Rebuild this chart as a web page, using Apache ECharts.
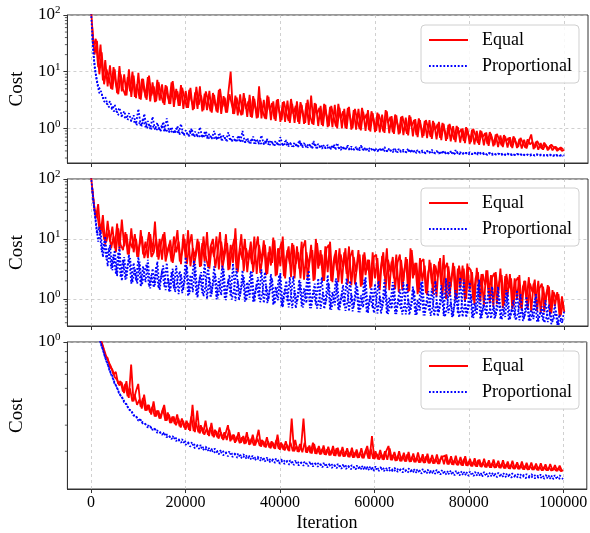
<!DOCTYPE html>
<html><head><meta charset="utf-8">
<script src="https://cdn.jsdelivr.net/npm/echarts@6.0.0/dist/echarts.min.js"></script>
<style>html,body{margin:0;padding:0;background:#fff}#c{width:590px;height:533px}</style>
</head><body><div id="c"></div>
<script>
// iteration spacing of the samples; "B" runs are sampled half a step later
const STEP = 500;
const OFFSET_B = 250;

const xTicks = [0, 20000, 40000, 60000, 80000, 100000];
const yMajor12 = [1, 10, 100];
const yMajor3 = [1];
const yMinor1 = [0.3,0.4,0.5,0.6,0.7,0.8,0.9,2,3,4,5,6,7,8,9,20,30,40,50,60,70,80,90];
const yMinor2 = [0.4,0.5,0.6,0.7,0.8,0.9,2,3,4,5,6,7,8,9,20,30,40,50,60,70,80,90];
const yMinor3 = [0.3,0.4,0.5,0.6,0.7,0.8,0.9];

// Panel 1
const p1Equal = [
130,28,38,12,30,7,16,5.5,13,4.8,
11,4.2,12.5,4.5,9,3.8,11,3.6,8.5,3.4,
9.5,3.2,7.5,3.5,8,3.0,6.5,2.9,7.2,3.1,
6,2.6,5.5,2.7,6.5,2.4,5,2.5,5.8,2.2,
4.6,2.3,5.2,2.1,4.3,2.2,5.5,2.0,4.1,2.1,
4.6,1.9,3.9,2.0,4.8,1.8,3.7,1.9,4.2,10,
1.8,3.8,1.7,4.0,1.75,3.4,1.6,3.9,1.55,3.3,
1.5,5.5,1.5,3.2,1.45,3.6,1.4,3.0,1.35,3.3,
1.3,2.9,1.3,3.1,1.25,2.7,1.25,3.0,1.2,2.6,
1.2,2.8,1.15,3.8,1.15,2.7,1.1,2.5,1.1,2.6,
1.05,2.4,1.05,2.6,1.0,2.3,1.0,2.2,0.98,2.4,
0.95,2.1,0.95,2.2,0.92,1.95,0.9,2.1,0.88,1.85,
0.86,1.9,0.85,1.75,0.83,2.0,0.82,1.65,0.8,1.7,
0.78,1.6,0.76,1.55,0.75,1.6,0.72,1.45,0.7,1.4,
0.69,1.35,0.67,1.4,0.65,1.25,0.64,1.3,0.62,1.2,
0.6,1.15,0.59,1.1,0.57,1.05,0.56,1.0,0.55,1.0,
0.53,0.95,0.52,0.9,0.51,0.88,0.5,0.85,0.49,0.8,
0.48,0.78,0.47,0.75,0.47,0.72,0.46,0.7,0.45,0.68,
0.45,0.65,0.44,0.63,0.44,0.6,0.78,0.43,0.58,0.42,
0.55,0.42,0.52,0.41,0.5,0.41,0.47,0.4,0.45,0.4,
0.42];
const p1EqualB = [
60,20,35,9,22,6,11,8,5,12,6,4,9,5,3.8,8,4.5,10,3.6,6,
3.3,7.5,4.5,3.2,8.5,3.8,5.5,3.0,6.5,4,2.8,5.8,3.5,2.7,6.8,3.2,4.5,2.5,5.2,3.4,
2.3,4.8,3.0,2.2,5.4,2.6,3.8,2.1,4.5,3.0,2.0,4.2,2.6,1.9,5.0,2.4,3.5,1.9,4.0,2.6,
1.8,3.5,2.3,1.7,4.2,2.2,3.0,1.6,3.7,2.3,1.55,3.4,2.0,1.5,3.8,2.1,2.8,1.45,3.2,2.0,
1.4,3.0,1.9,1.35,3.3,1.8,2.5,1.3,2.9,1.9,1.25,3.2,1.7,1.2,2.8,1.8,2.3,1.15,2.7,1.7,
1.1,2.5,1.6,1.08,2.7,1.5,2.0,1.02,2.3,1.55,1.0,2.2,1.4,0.97,2.3,1.45,1.8,0.93,2.0,1.4,
0.9,1.8,1.3,0.88,2.1,1.25,1.6,0.85,1.75,1.2,0.82,1.65,1.15,0.8,1.7,1.1,1.4,0.76,1.5,1.05,
0.74,1.4,1.0,0.71,1.35,0.95,1.2,0.68,1.25,0.9,0.65,1.2,0.85,0.63,1.1,0.82,0.98,0.6,1.05,0.78,
0.57,0.98,0.74,0.55,0.92,0.7,0.82,0.53,0.86,0.66,0.51,0.8,0.63,0.5,0.76,0.6,0.68,0.48,0.72,0.57,
0.47,0.68,0.55,0.46,0.64,0.52,0.58,0.45,0.6,0.5,0.44,0.56,0.48,0.43,0.52,0.46,0.47,0.42,0.46,0.43];
const p1Prop = [
110,20,9,5.5,4.8,3.4,3.6,2.6,3.0,2.2,
2.6,1.9,2.3,1.65,2.0,1.5,1.85,1.35,1.7,1.2,
2.2,1.1,1.5,1.05,1.35,0.98,1.6,0.95,1.25,0.9,
1.15,0.88,1.5,0.85,1.05,0.82,1.0,0.8,1.2,0.76,
0.92,0.74,0.95,0.72,0.88,0.7,1.05,0.69,0.85,0.67,
0.8,0.65,0.9,0.64,0.78,0.62,0.75,0.61,0.85,0.6,
0.72,0.58,0.7,0.57,0.9,0.56,0.68,0.55,0.66,0.54,
0.65,0.53,0.75,0.52,0.63,0.52,0.62,0.51,0.6,0.5,
0.7,0.49,0.59,0.49,0.57,0.48,0.56,0.47,0.62,0.47,
0.55,0.46,0.54,0.46,0.6,0.45,0.53,0.45,0.52,0.44,
0.51,0.44,0.5,0.43,0.55,0.43,0.49,0.42,0.48,0.42,
0.48,0.42,0.47,0.41,0.5,0.41,0.46,0.41,0.46,0.4,
0.45,0.4,0.44,0.4,0.47,0.39,0.44,0.39,0.43,0.39,
0.43,0.38,0.42,0.38,0.44,0.38,0.42,0.38,0.41,0.37,
0.41,0.37,0.4,0.37,0.42,0.37,0.4,0.36,0.39,0.36,
0.39,0.36,0.39,0.36,0.41,0.36,0.38,0.355,0.38,0.355,
0.38,0.35,0.37,0.35,0.39,0.35,0.37,0.35,0.37,0.345,
0.37,0.345,0.36,0.345,0.36,0.34,0.36,0.34,0.36,0.34,
0.355,0.34,0.355,0.34,0.35,0.335,0.35,0.335,0.35,0.335,
0.345,0.335,0.345,0.33,0.345,0.33,0.34,0.33,0.34,0.33,
0.335];
const p1PropB = [
45,12,6.5,4.2,4.0,3.0,2.8,2.4,2.3,2.0,2.1,1.75,1.7,1.6,1.55,1.45,1.4,1.3,1.3,1.15,
1.25,1.1,1.8,1.0,1.15,0.97,1.1,0.92,1.05,0.9,1.3,0.86,0.95,0.84,0.92,0.81,1.1,0.78,0.86,0.76,
0.82,0.73,1.0,0.71,0.78,0.7,0.76,0.68,0.9,0.66,0.72,0.65,0.7,0.63,0.8,0.62,0.68,0.6,0.66,0.6,
0.64,0.58,0.75,0.57,0.62,0.56,0.6,0.55,0.72,0.54,0.58,0.53,0.57,0.52,0.65,0.51,0.56,0.5,0.55,0.5,
0.54,0.49,0.62,0.48,0.53,0.48,0.52,0.47,0.58,0.46,0.51,0.46,0.5,0.45,0.55,0.45,0.49,0.44,0.48,0.44,
0.47,0.43,0.52,0.43,0.46,0.42,0.46,0.42,0.5,0.41,0.45,0.41,0.44,0.41,0.47,0.4,0.43,0.4,0.43,0.4,
0.42,0.39,0.45,0.39,0.42,0.39,0.41,0.38,0.43,0.38,0.41,0.38,0.4,0.37,0.42,0.37,0.4,0.37,0.39,0.37,
0.39,0.36,0.41,0.36,0.39,0.36,0.38,0.36,0.4,0.355,0.38,0.355,0.37,0.35,0.39,0.35,0.37,0.35,0.37,0.35,
0.37,0.345,0.38,0.345,0.36,0.345,0.36,0.34,0.37,0.34,0.355,0.34,0.355,0.34,0.36,0.335,0.35,0.335,0.35,0.335,
0.35,0.335,0.355,0.33,0.345,0.33,0.345,0.33,0.35,0.33,0.34,0.33,0.34,0.325,0.345,0.325,0.34,0.325,0.335,0.325];

// Panel 2
const p2Equal = [
110,45,22,38,12,25,8,20,9,16,
7,18,6.5,21,7.5,12,5.5,15,6,10,
5,14,5.5,9,4.8,12,6,19.5,5,10,
4.5,13,5.5,8,4.2,11,6,9,3.8,12,
4.5,14,3.5,7,5,10,3.4,8.5,4.2,13,
3.2,7.5,5,11,3.1,9,4.5,12,3.0,8,
4,15,2.8,7,4.5,10,2.8,6.5,3.8,11,
2.6,8,4.2,9.5,2.5,6,3.6,10.5,2.4,7,
3.5,11,2.2,6.5,3.8,8.5,2.2,7.5,3.2,9,
2.1,6,3.5,8,2.0,10,3.2,6.5,2.0,7.5,
2.8,9,1.9,5.5,3.0,7,1.8,6,2.6,7.5,
1.7,5,2.8,6.5,1.6,5.5,2.5,4.5,1.5,6,
2.2,4.8,1.4,5.2,2.4,7,1.4,4.2,2.2,5.5,
1.3,4.5,2.0,5,1.3,7,2.2,4,1.2,4.8,
2.0,3.6,1.15,4.5,1.8,3.8,1.1,4.2,1.7,5.4,
1.0,3.5,1.6,4,0.95,3.2,1.5,3.6,0.9,3.9,
1.4,2.8,0.8,3.3,1.3,2.6,0.78,3.0,1.2,2.5,
0.75,2.8,1.15,3.2,0.7,2.4,1.1,2.6,0.68,2.2,
1.0,2.5,0.65,2.0,0.95,2.3,0.62,1.8,0.9,2.0,
0.58,1.6,0.85,1.7,0.55,1.4,0.75,1.3,0.5,1.1,
0.6];
const p2EqualB = [
70,30,28,15,18,10,9,14,7,11,6,15,8,6.5,13,5.5,9,7,12,5,
8,11,4.8,7,13,5,6,10,4.5,8,12,4.2,6.5,9.5,4,7,14,4.2,6,10,
3.8,8,12,3.6,6,9,3.5,11,5,3.4,7.5,10,3.3,6,13,3.2,5.5,8.5,3.1,6.5,
10,3.0,5.5,12,2.9,7,4.5,9,2.8,6.5,11,2.7,5,8,2.6,7.5,4,9.5,2.5,6,
9,2.4,5,7.5,2.3,8,3.8,6,2.2,7,9.5,2.2,4.8,6.5,2.1,8.5,3.6,5.5,2.0,7,
8,2.0,4.2,6.5,1.9,5.5,3.4,7,1.8,5,6.5,1.75,3.8,5.5,1.7,6,3.0,4.5,1.6,5,
5.5,1.55,3.4,6,1.5,4.5,2.8,5,1.45,4,5.5,1.4,3.2,4.6,1.35,6.5,2.5,4,1.3,4.2,
4.6,1.25,2.8,4,1.2,3.6,2.3,4.8,1.15,3.2,4,1.1,2.5,3.5,1.05,3.6,2.0,3.2,1.0,3.4,
3.0,0.95,2.2,2.8,0.9,2.6,1.7,3.0,0.86,2.3,2.7,0.82,1.9,2.5,0.78,2.6,1.5,2.2,0.74,2.0,
2.3,0.7,1.6,2.0,0.67,1.8,1.3,2.1,0.63,1.5,1.8,0.6,1.3,1.6,0.57,1.3,1.0,1.2,0.53,0.9];
const p2Prop = [
110,40,20,9,14,5,11,3.5,8,3,
6.5,2.4,7.4,2.0,5,2.2,5.5,1.8,4,2.0,
5,1.6,3.5,1.9,4.5,1.5,3.2,1.7,4.2,1.4,
3,1.6,4,1.3,2.8,1.5,3.6,1.2,2.6,1.4,
5,1.1,2.5,1.3,3.8,1.05,2.4,1.25,4.2,1.0,
2.3,1.2,3.5,0.98,2.2,1.15,3.2,0.95,2.1,1.1,
3.9,0.92,2.0,1.1,3,0.9,1.9,1.05,2.8,0.88,
1.8,1.0,3.1,0.85,1.7,0.98,2.6,0.8,1.6,0.95,
2.7,0.72,1.5,0.9,2.3,0.7,1.4,0.88,2.1,0.75,
1.5,0.85,3.0,0.7,1.4,0.8,2.2,0.68,1.3,0.8,
2.5,0.66,1.3,0.78,2.0,0.65,1.25,0.75,2.2,0.62,
1.2,0.74,1.9,0.6,1.15,0.72,2.3,0.58,1.1,0.7,
1.8,0.57,1.1,0.7,2.1,0.56,1.05,0.68,1.7,0.56,
1.0,0.66,1.9,0.55,1.0,0.65,1.6,0.54,0.95,0.64,
2.0,0.53,0.95,0.62,1.5,0.52,0.9,0.6,1.7,0.52,
2.2,0.58,0.9,0.5,1.4,0.57,2.3,0.5,0.85,0.56,
1.9,0.49,0.85,0.55,2.1,0.48,0.8,0.54,1.5,0.47,
0.78,0.52,1.6,0.46,0.75,0.5,1.3,0.45,0.72,0.49,
1.4,0.44,0.7,0.47,1.1,0.43,0.66,0.46,1.2,0.42,
0.62,0.44,0.95,0.41,0.6,0.42,0.8,0.37,0.55,0.4,
0.65];
const p2PropB = [
70,28,12,16,6,9,4.5,7,3.2,5.5,2.6,6,2.3,4.5,2.1,3.8,4.8,1.9,3.2,1.8,
4.2,1.7,2.8,3.8,1.6,2.5,1.55,3.5,1.5,2.3,3.6,1.4,2.2,1.35,3.2,1.3,2.1,2.9,1.25,2.0,
3.5,1.2,1.9,4.4,1.15,1.8,2.8,1.1,1.75,3.4,1.05,1.7,2.6,1.02,1.65,3.6,1.0,1.6,2.5,0.97,
1.55,3.2,0.95,1.5,2.4,0.93,1.45,2.9,0.9,1.4,2.3,0.88,1.35,2.8,0.85,1.3,2.2,0.82,1.25,2.5,
0.75,1.2,2.0,0.72,1.15,2.4,0.7,1.1,1.9,0.72,1.1,2.6,0.7,1.05,1.8,0.69,1.05,2.3,0.68,1.0,
1.8,0.66,1.0,2.2,0.65,0.98,1.7,0.63,0.95,2.0,0.62,0.95,1.6,0.6,0.92,2.1,0.59,0.9,1.55,0.58,
0.9,2.0,0.57,0.88,1.5,0.56,0.86,1.9,0.56,0.85,1.45,0.55,0.84,1.8,0.54,0.82,1.4,0.53,0.8,1.9,
0.53,0.8,1.35,0.52,0.78,2.0,0.51,0.76,1.3,0.5,0.75,1.9,0.5,0.74,1.25,0.49,0.72,2.1,0.49,0.7,
1.2,0.48,0.7,1.8,0.47,0.68,1.15,0.47,0.66,1.6,0.46,0.64,1.05,0.45,0.62,1.4,0.45,0.6,0.95,0.44,
0.6,1.2,0.43,0.57,0.85,0.42,0.55,1.0,0.41,0.52,0.75,0.4,0.5,0.8,0.38,0.47,0.62,0.37,0.45,0.42];

// Panel 3
const p3Equal = [
100,6,2.2,1.4,1.02,0.95,0.86,0.84,0.76,0.74,
0.68,0.66,0.62,0.64,0.57,0.65,0.54,0.78,0.52,0.58,
0.63,0.49,0.54,0.47,0.5,0.46,0.49,0.44,0.47,0.43,
0.46,0.5,0.42,0.45,0.41,0.44,0.4,0.43,0.39,0.42,
0.38,0.41,0.375,0.5,0.37,0.47,0.365,0.39,0.36,0.385,
0.355,0.41,0.35,0.375,0.345,0.37,0.34,0.365,0.4,0.335,
0.36,0.33,0.355,0.328,0.35,0.325,0.37,0.322,0.345,0.32,
0.34,0.38,0.316,0.336,0.313,0.335,0.31,0.33,0.308,0.36,
0.305,0.325,0.303,0.322,0.3,0.43,0.3,0.318,0.298,0.316,
0.43,0.296,0.314,0.294,0.33,0.292,0.31,0.29,0.308,0.289,
0.306,0.287,0.305,0.286,0.31,0.284,0.302,0.283,0.3,0.282,
0.299,0.28,0.297,0.279,0.296,0.278,0.295,0.318,0.276,0.355,
0.275,0.292,0.274,0.29,0.273,0.3,0.318,0.272,0.288,0.27,
0.286,0.269,0.285,0.268,0.29,0.267,0.282,0.266,0.28,0.265,
0.279,0.264,0.284,0.263,0.277,0.262,0.276,0.261,0.275,0.283,
0.286,0.26,0.273,0.259,0.272,0.258,0.27,0.257,0.276,0.256,
0.268,0.255,0.267,0.254,0.272,0.253,0.265,0.252,0.264,0.251,
0.263,0.25,0.262,0.25,0.261,0.249,0.26,0.248,0.259,0.247,
0.258,0.247,0.257,0.246,0.256,0.245,0.255,0.245,0.254,0.244,
0.253,0.243,0.252,0.243,0.251,0.242,0.25,0.242,0.249,0.241,
0.243];
const p3EqualB = [
30,3.5,1.7,1.15,1.0,0.92,0.85,0.8,0.76,0.7,0.72,0.63,0.65,0.58,0.63,0.55,0.6,0.52,0.56,0.5,
0.53,0.48,0.56,0.47,0.5,0.45,0.52,0.44,0.47,0.43,0.48,0.42,0.46,0.41,0.44,0.405,0.45,0.395,0.43,0.39,
0.42,0.38,0.44,0.375,0.41,0.37,0.4,0.365,0.42,0.36,0.39,0.355,0.38,0.35,0.39,0.345,0.37,0.34,0.38,0.34,
0.36,0.335,0.37,0.33,0.355,0.327,0.35,0.324,0.36,0.32,0.345,0.318,0.34,0.315,0.35,0.313,0.335,0.31,0.34,0.308,
0.33,0.305,0.335,0.303,0.33,0.3,0.34,0.298,0.325,0.297,0.33,0.295,0.32,0.293,0.325,0.291,0.318,0.29,0.32,0.288,
0.315,0.287,0.318,0.285,0.312,0.284,0.315,0.283,0.31,0.281,0.312,0.28,0.306,0.279,0.31,0.278,0.305,0.277,0.308,0.276,
0.3,0.275,0.304,0.274,0.3,0.273,0.31,0.272,0.298,0.27,0.3,0.269,0.295,0.268,0.298,0.267,0.293,0.266,0.296,0.265,
0.29,0.264,0.292,0.263,0.288,0.262,0.29,0.261,0.286,0.26,0.29,0.259,0.284,0.258,0.286,0.257,0.282,0.256,0.284,0.255,
0.276,0.254,0.278,0.253,0.274,0.252,0.276,0.251,0.272,0.25,0.274,0.25,0.27,0.249,0.272,0.248,0.268,0.247,0.27,0.247,
0.266,0.246,0.268,0.245,0.264,0.245,0.265,0.244,0.262,0.243,0.263,0.243,0.26,0.242,0.261,0.242,0.258,0.241,0.256,0.241];
const p3Prop = [
100,4,1.6,1.2,0.99,0.92,0.84,0.79,0.72,0.69,
0.63,0.61,0.56,0.55,0.515,0.505,0.475,0.47,0.445,0.445,
0.42,0.425,0.405,0.405,0.39,0.395,0.38,0.385,0.368,0.372,
0.36,0.366,0.35,0.356,0.343,0.35,0.336,0.342,0.33,0.336,
0.322,0.33,0.316,0.324,0.31,0.318,0.306,0.314,0.302,0.31,
0.298,0.306,0.294,0.302,0.29,0.298,0.287,0.295,0.284,0.292,
0.282,0.29,0.279,0.287,0.277,0.285,0.275,0.282,0.273,0.28,
0.271,0.278,0.269,0.276,0.267,0.274,0.265,0.272,0.264,0.271,
0.262,0.269,0.261,0.268,0.259,0.266,0.258,0.265,0.257,0.264,
0.256,0.263,0.255,0.262,0.254,0.261,0.253,0.26,0.252,0.259,
0.251,0.258,0.25,0.257,0.249,0.256,0.248,0.255,0.247,0.254,
0.246,0.253,0.246,0.252,0.245,0.251,0.244,0.25,0.243,0.249,
0.242,0.248,0.242,0.247,0.241,0.246,0.24,0.246,0.239,0.245,
0.239,0.244,0.238,0.243,0.237,0.243,0.237,0.242,0.236,0.241,
0.235,0.24,0.235,0.24,0.234,0.239,0.233,0.238,0.233,0.238,
0.232,0.237,0.232,0.236,0.231,0.236,0.23,0.235,0.23,0.234,
0.229,0.234,0.229,0.233,0.228,0.233,0.228,0.232,0.227,0.231,
0.227,0.231,0.226,0.23,0.226,0.23,0.225,0.229,0.225,0.229,
0.224,0.228,0.224,0.228,0.223,0.227,0.223,0.227,0.223,0.226,
0.222,0.226,0.222,0.225,0.221,0.225,0.221,0.224,0.221,0.224,
0.221];
const p3PropB = [
20,2.4,1.3,1.05,0.96,0.88,0.81,0.76,0.7,0.66,0.62,0.585,0.555,0.535,0.51,0.49,0.47,0.46,0.44,0.435,
0.425,0.415,0.41,0.4,0.397,0.388,0.387,0.378,0.376,0.368,0.368,0.36,0.36,0.352,0.354,0.346,0.347,0.34,0.342,0.334,
0.335,0.328,0.33,0.322,0.325,0.317,0.32,0.312,0.316,0.308,0.312,0.304,0.308,0.3,0.304,0.297,0.301,0.294,0.298,0.291,
0.295,0.288,0.292,0.286,0.29,0.283,0.288,0.281,0.285,0.279,0.283,0.277,0.281,0.275,0.279,0.273,0.277,0.271,0.276,0.27,
0.274,0.268,0.273,0.266,0.271,0.265,0.27,0.264,0.268,0.262,0.267,0.261,0.266,0.26,0.265,0.259,0.264,0.258,0.263,0.257,
0.262,0.256,0.261,0.255,0.26,0.254,0.259,0.253,0.258,0.252,0.257,0.251,0.256,0.25,0.256,0.249,0.255,0.248,0.254,0.248,
0.253,0.247,0.252,0.246,0.251,0.246,0.25,0.245,0.25,0.244,0.249,0.243,0.248,0.243,0.248,0.242,0.247,0.241,0.246,0.241,
0.246,0.24,0.245,0.239,0.244,0.239,0.244,0.238,0.243,0.238,0.242,0.237,0.242,0.236,0.241,0.236,0.241,0.235,0.24,0.235,
0.239,0.234,0.239,0.234,0.238,0.233,0.238,0.233,0.237,0.232,0.237,0.232,0.236,0.231,0.236,0.231,0.235,0.23,0.235,0.23,
0.234,0.229,0.234,0.229,0.233,0.228,0.233,0.228,0.232,0.227,0.232,0.227,0.231,0.226,0.231,0.226,0.23,0.225,0.23,0.225];

const FONT = "'Liberation Serif','DejaVu Serif','Times New Roman',serif";
const RED = '#ff0000', BLUE = '#0000ff';
const AX = '#333333';

function pairs(arr, offset) { return arr.map((v, i) => [offset + i * STEP, v]); }

const panels = [
  {top: 15, height: 148, yMin: 0.245, yMax: 100, major: yMajor12, minor: yMinor1,
   eq: [[p1Equal, 0], [p1EqualB, OFFSET_B]], pr: [[p1Prop, 0], [p1PropB, OFFSET_B]], legendTop: 25},
  {top: 179, height: 147, yMin: 0.353, yMax: 100, major: yMajor12, minor: yMinor2,
   eq: [[p2Equal, 0], [p2EqualB, OFFSET_B]], pr: [[p2Prop, 0], [p2PropB, OFFSET_B]], legendTop: 188},
  {top: 342, height: 148, yMin: 0.198, yMax: 1, major: yMajor3, minor: yMinor3,
   eq: [[p3Equal, 0], [p3EqualB, OFFSET_B]], pr: [[p3Prop, 0], [p3PropB, OFFSET_B]], legendTop: 351}
];

const gridLine = {show: true, lineStyle: {type: [3, 3], color: '#c4c4c4', width: 0.8}};

const option = {
  animation: false,
  backgroundColor: '#ffffff',
  grid: panels.map(p => ({left: 63, width: 525, top: p.top, height: p.height, show: true,
    borderColor: AX, borderWidth: 1, backgroundColor: 'transparent', containLabel: false})),
  xAxis: panels.map((p, i) => ({
    type: 'value', gridIndex: i, min: -5000, max: 105000,
    axisLine: {show: true, onZero: false, lineStyle: {color: AX, width: 1}},
    axisTick: {show: true, customValues: xTicks, length: 4, lineStyle: {color: AX, width: 1}},
    axisLabel: {show: i === 2, customValues: xTicks, formatter: v => String(v),
      fontFamily: FONT, fontSize: 16, color: '#000', margin: 6},
    splitLine: gridLine,
    name: i === 2 ? 'Iteration' : '', nameLocation: 'middle', nameGap: 25,
    nameTextStyle: {fontFamily: FONT, fontSize: 18, color: '#000'}
  })),
  yAxis: panels.map((p, i) => ({
    type: 'log', logBase: 10, gridIndex: i, min: p.yMin, max: p.yMax,
    axisLine: {show: true, onZero: false, lineStyle: {color: AX, width: 1}},
    axisTick: {show: true, customValues: p.major, length: 4, lineStyle: {color: AX, width: 1}},
    axisLabel: {customValues: p.major, margin: 7,
      formatter: v => '{b|10}{s|' + Math.round(Math.log10(v)) + '}',
      rich: {
        b: {fontFamily: FONT, fontSize: 17, color: '#000', lineHeight: 20},
        s: {fontFamily: FONT, fontSize: 11, color: '#000', lineHeight: 12, verticalAlign: 'top'}
      }},
    splitLine: gridLine,
    minorTick: {show: false}, minorSplitLine: {show: false},
    name: 'Cost', nameLocation: 'middle', nameGap: 37,
    nameTextStyle: {fontFamily: FONT, fontSize: 19, color: '#000'}
  })),
  legend: panels.map(p => ({
    data: ['Equal', 'Proportional'], orient: 'vertical', left: 421, top: p.legendTop,
    itemWidth: 39, itemHeight: 14, itemGap: 6, selectedMode: false,
    itemStyle: {opacity: 0},
    padding: [5, 7, 7, 7], backgroundColor: 'rgba(255,255,255,0.85)',
    borderColor: '#d0d0d0', borderWidth: 1, borderRadius: 4,
    textStyle: {fontFamily: FONT, fontSize: 18, color: '#000', lineHeight: 20, padding: [0, 0, 0, 9]}
  })),
  series: []
};

panels.forEach((p, i) => {
  p.eq.forEach(([arr, off]) => option.series.push({
    name: 'Equal', type: 'line', xAxisIndex: i, yAxisIndex: i, data: pairs(arr, off),
    symbol: 'none', showSymbol: false, clip: true, silent: true,
    lineStyle: {color: RED, width: 1.8}, itemStyle: {color: RED}
  }));
  p.pr.forEach(([arr, off]) => option.series.push({
    name: 'Proportional', type: 'line', xAxisIndex: i, yAxisIndex: i, data: pairs(arr, off),
    symbol: 'none', showSymbol: false, clip: true, silent: true,
    lineStyle: {color: BLUE, width: 1.8, type: [1.8, 1.8]}, itemStyle: {color: BLUE}
  }));
  // minor log ticks on the y axis
  option.series.push({
    type: 'custom', xAxisIndex: i, yAxisIndex: i, clip: false, silent: true,
    data: p.minor.map(v => [-5000, v]),
    renderItem: (params, api) => {
      const c = api.coord([api.value(0), api.value(1)]);
      return {type: 'line', shape: {x1: c[0] - 2.5, y1: c[1], x2: c[0], y2: c[1]},
        style: {stroke: AX, lineWidth: 0.8}};
    }
  });
});

const chart = echarts.init(document.getElementById('c'), null, {renderer: 'canvas'});
chart.setOption(option);
</script>
</body></html>
